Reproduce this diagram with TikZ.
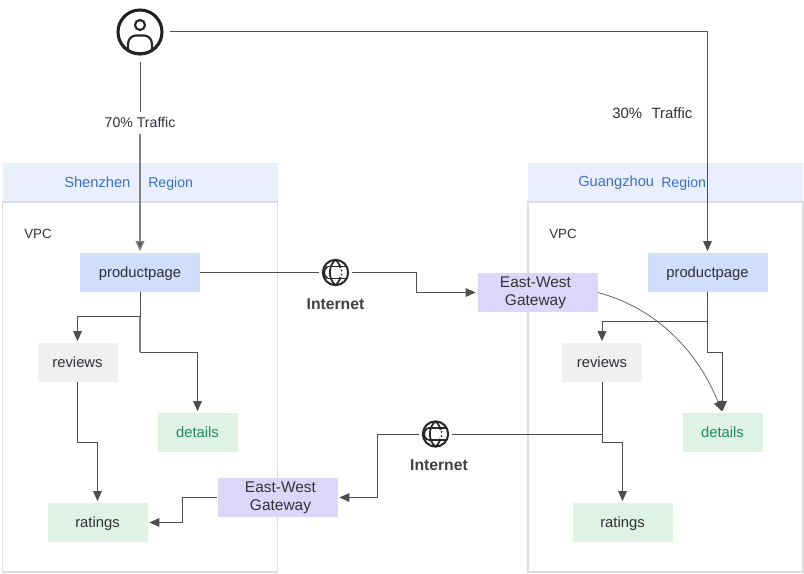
\documentclass[tikz,border=0pt]{standalone}
\usepackage{fontspec}
\setmainfont{Liberation Sans}
\usetikzlibrary{arrows.meta}
\definecolor{regionfill}{HTML}{E9EFFC}
\definecolor{regiontext}{HTML}{3A72C0}
\definecolor{vpcline}{HTML}{DDDDE0}
\definecolor{pagefill}{HTML}{D0DDFB}
\definecolor{gatefill}{HTML}{DCD6FA}
\definecolor{greyfill}{HTML}{F0F0F0}
\definecolor{greenfill}{HTML}{DFF3E4}
\definecolor{greentext}{HTML}{1F8A60}
\definecolor{inktext}{HTML}{2F2F36}
\definecolor{wire}{HTML}{4E4E4E}
\tikzset{
  x=0.75pt,y=-0.75pt,
  box/.style={minimum width=#1*0.75pt,minimum height=29.25pt,inner sep=0pt,text=inktext,align=center},
  single/.style={font=\fontsize{11.1pt}{12pt}\selectfont,text height=8.2pt,text depth=0pt},
  pagebox/.style={box=120,single,fill=pagefill},
  gatebox/.style={box=120,fill=gatefill,font=\fontsize{11.6pt}{13.4pt}\selectfont,text=black!80},
  greybox/.style={box=80,single,fill=greyfill},
  greenbox/.style={box=80,single,fill=greenfill,text=greentext},
  ratingbox/.style={box=100,single,fill=greenfill},
  regionbox/.style={minimum width=206.25pt,minimum height=29.25pt,fill=regionfill,inner sep=0pt},
  vpcbox/.style={minimum width=206.25pt,minimum height=277.5pt,draw=vpcline,line width=1.1pt,inner sep=0pt},
  regionname/.style={font=\fontsize{11pt}{13pt}\selectfont,text=regiontext,inner sep=0pt},
  regionword/.style={font=\fontsize{10.6pt}{12pt}\selectfont,text=regiontext,inner sep=0pt},
  plain/.style={font=\fontsize{10pt}{12pt}\selectfont,text=inktext,inner sep=0pt},
  inetlabel/.style={font=\fontsize{11.8pt}{13pt}\bfseries\selectfont,text=black!75,inner sep=0pt},
  conn/.style={draw=wire,line width=0.75pt,shorten >=1.2pt,-{Triangle[length=7.5pt,width=6.5pt]}},
  connplain/.style={draw=wire,line width=0.75pt},
  greyrun/.style={draw=black!50,line width=1.1pt},
  globenode/.style={circle,draw=black!85,line width=1.5pt,minimum size=19pt,inner sep=0pt,outer sep=2.6pt},
  usernode/.style={circle,draw=black!88,line width=2.3pt,minimum size=33pt,inner sep=0pt,outer sep=6pt},
  icon/.style={draw=black!85,line width=1.3pt},
}
\newcommand{\globelines}[1]{%
  \begin{scope}[shift={(#1)}]
    \draw[icon] (0,-12.5) .. controls (-7.5,-7) and (-7.5,7) .. (0,12.5);
    \draw[icon] (0,-12.5) .. controls (7.5,-7) and (7.5,7) .. (0,12.5);
    \fill[white] (4.5,-4.5) rectangle (9,4.5);
    \draw[icon] (-8,-6) -- (10,-6) (-8,6) -- (10,6);
    \draw[icon] (-8,-6) .. controls (-12.5,-3) and (-12.5,3) .. (-8,6);
    \fill[black!85] (6,-2.2) circle (1) (6,2.2) circle (1);
  \end{scope}}
\begin{document}
\begin{tikzpicture}
\useasboundingbox (0,0) rectangle (804,574);
% regions
\node[regionbox] (regL) at (140,182.5) {};
\node[regionbox] (regR) at (665.5,182.5) {};
\node[vpcbox] (vpcL) at (140,387) {};
\node[vpcbox] (vpcR) at (665.5,387) {};
\node[regionname,anchor=west] (snL) at (64,182.5) {Shenzhen};
\node[regionword,anchor=west] (swL) at (148,183.5) {Region};
\node[regionname,anchor=west] (snR) at (578,182.5) {Guangzhou};
\node[regionword,anchor=west] (swR) at (661,183.5) {Region};
\node[plain,anchor=west] (vpcLt) at (24,233.5) {VPC};
\node[plain,anchor=west] (vpcRt) at (549,233.5) {VPC};
% service boxes
\node[pagebox] (ppL) at (140,272.5) {productpage};
\node[pagebox] (ppR) at (707.5,272.5) {productpage};
\node[greybox] (revL) at (77.5,362.5) {reviews};
\node[greybox] (revR) at (602,362.5) {reviews};
\node[greenbox] (detL) at (197.5,432.5) {details};
\node[greenbox] (detR) at (722.5,432.5) {details};
\node[ratingbox] (ratL) at (97.5,522.5) {ratings};
\node[ratingbox] (ratR) at (622.5,522.5) {ratings};
\node[gatebox] (gwR) at (537.5,292.5) {East-West\hspace*{3pt}\\Gateway\hspace*{3pt}};
\node[gatebox] (gwL) at (277.5,497.5) {\hspace*{4.5pt}East-West\\\hspace*{4.5pt}Gateway};
% user
\node[usernode] (user) at (140,32) {};
\draw[icon,line width=1.6pt] (140,25) circle (5);
\draw[icon,line width=1.6pt] (128,50.5) -- (128,44) .. controls (128,38) and (133,35.5) .. (136,35.5) -- (144,35.5) .. controls (147,35.5) and (152,38) .. (152,44) -- (152,50.5) .. controls (148,54) and (132,54) .. (128,50.5) -- cycle;
% globes
\node[globenode] (g1) at (335.5,272.5) {};
\node[globenode] (g2) at (435.5,434) {};
\globelines{335.5,272.5}
\globelines{435.5,434}
\node[inetlabel] (i1) at (335.5,304.5) {Internet};
\node[inetlabel] (i2) at (439,465.5) {Internet};
% traffic labels
\node[plain,font=\fontsize{10.6pt}{12pt}\selectfont,inner sep=0pt,minimum height=15.75pt] (t70) at (140,122.75) {70\% Traffic};
\node[plain,anchor=west,font=\fontsize{11.2pt}{12pt}\selectfont] (t30) at (612,113) {30\%\hspace{4pt} Traffic};
% connectors
\draw[connplain] (user) -- (t70);
\draw[conn,draw=black!50,line width=1.1pt,-{Triangle[length=7.5pt,width=6.5pt,fill=wire]}] (t70) -- (ppL);
\draw[conn] (user.east) -- (ppR.north |- user.east) -- (ppR);
\draw[connplain] (ppL) -- (g1);
\draw[conn] (g1) -- (416,272.5) -- (416,292.5) -- (gwR);
\draw[conn] (g2.west) -- (377,434) -- (377,497.5) -- (gwL);
\draw[conn] (gwL) -- (182,497.5) -- (182,522.5) -- (ratL);
\draw[conn] (ppL.south) -- (140,317) -- (77.5,317) -- (revL);
\draw[conn] (ppL.south) -- (140,352) -- (197.5,352) -- (detL);
\coordinate (splitTop) at (ppL.south |- 0,317);
\coordinate (splitBot) at (ppL.south |- 0,352);
\draw[greyrun] (splitTop) -- (splitBot);
\draw[conn] (revL) -- (77.5,442) -- (97.5,442) -- (ratL);
\draw[conn] (ppR) -- (707.5,322) -- (602,322) -- (revR);
\draw[conn] (ppR) -- (707.5,352) -- (722.5,352) -- (detR);
\draw[conn] (revR) -- (602,442) -- (622.5,442) -- (ratR);
\draw[connplain] (g2.east) -- (602,434);
\draw[conn,line width=0.5pt] (gwR.east) .. controls (650,306) and (695,345) .. (detR.north);
\end{tikzpicture}
\end{document}
